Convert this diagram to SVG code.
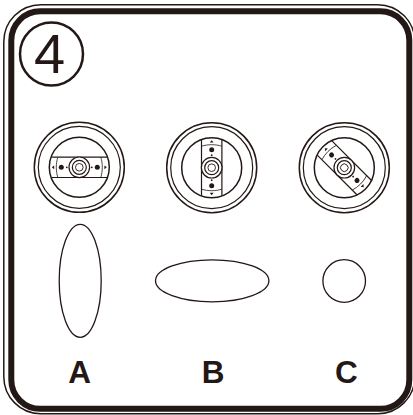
<svg xmlns="http://www.w3.org/2000/svg" width="413" height="415" viewBox="0 0 413 415">
<style>
.l{fill:none;stroke:#231815}
.k{fill:#231815;stroke:none}
.t{font-family:"Liberation Sans",Arial,sans-serif;font-weight:bold;font-size:31.500px;fill:#231815;text-anchor:middle}
</style>
<defs>
<g id="knob">
<circle class="l" r="45" stroke-width="1.5"/>
<circle class="l" r="41" stroke-width="1.2"/>
<circle class="l" r="30" stroke-width="1.5"/>
</g>
<g id="slot">
<path d="M-28-10.200H28M-28 10.200H28" class="l" stroke-width="1.200"/>
<path d="M-21.500-10C-23.500-4-23.500 4-21.500 10M21.500-10C23.500-4 23.500 4 21.500 10" class="l" stroke-width="0.800"/>
<circle class="k" cx="-18" r="2.500"/><circle class="k" cx="18" r="2.500"/>
<circle class="k" cx="-12.500" r="0.900"/><circle class="k" cx="12.500" r="0.900"/>
<path class="k" d="M-27.500 0l2.400-1.900v3.800zM27.500 0l-2.400-1.900v3.800z"/>
<circle r="10.300" fill="#fff" stroke="#231815" stroke-width="1.200"/>
<circle class="l" r="7" stroke-width="1.200"/>
<circle class="l" r="3.800" stroke-width="0.900"/>
</g>
</defs>
<g id="frame">
<rect class="l" x="3.800" y="4.700" width="411" height="409" rx="37" stroke-width="1.500"/>
<rect class="l" x="11.300" y="11.300" width="398" height="397.500" rx="29" stroke-width="6"/>
</g>
<g id="badge">
<circle class="l" cx="51.500" cy="54" r="31.500" stroke-width="2.500"/>
<text x="49.500" y="73" font-family="'Liberation Sans',Arial,sans-serif" font-size="56" fill="#231815" text-anchor="middle">4</text>
</g>
<g id="knob-a" transform="translate(79.300 167.300)"><use href="#knob"/><use href="#slot"/></g>
<g id="knob-b" transform="translate(211.700 167.700)"><use href="#knob"/><use href="#slot" transform="rotate(90)"/></g>
<g id="knob-c" transform="translate(344.300 167.700)"><use href="#knob"/><use href="#slot" transform="rotate(45)"/></g>
<g id="shape-a"><ellipse class="l" cx="80.200" cy="280.800" rx="21" ry="56.500" stroke-width="1.300"/></g>
<g id="shape-b"><ellipse class="l" cx="212.200" cy="280.800" rx="56.700" ry="21" stroke-width="1.300"/></g>
<g id="shape-c"><circle class="l" cx="344.200" cy="281" r="21.300" stroke-width="1.300"/></g>
<g id="label-a"><text class="t" x="79.500" y="382.500">A</text></g>
<g id="label-b"><text class="t" x="213" y="382.500">B</text></g>
<g id="label-c"><text class="t" x="346.300" y="382.500">C</text></g>
</svg>
